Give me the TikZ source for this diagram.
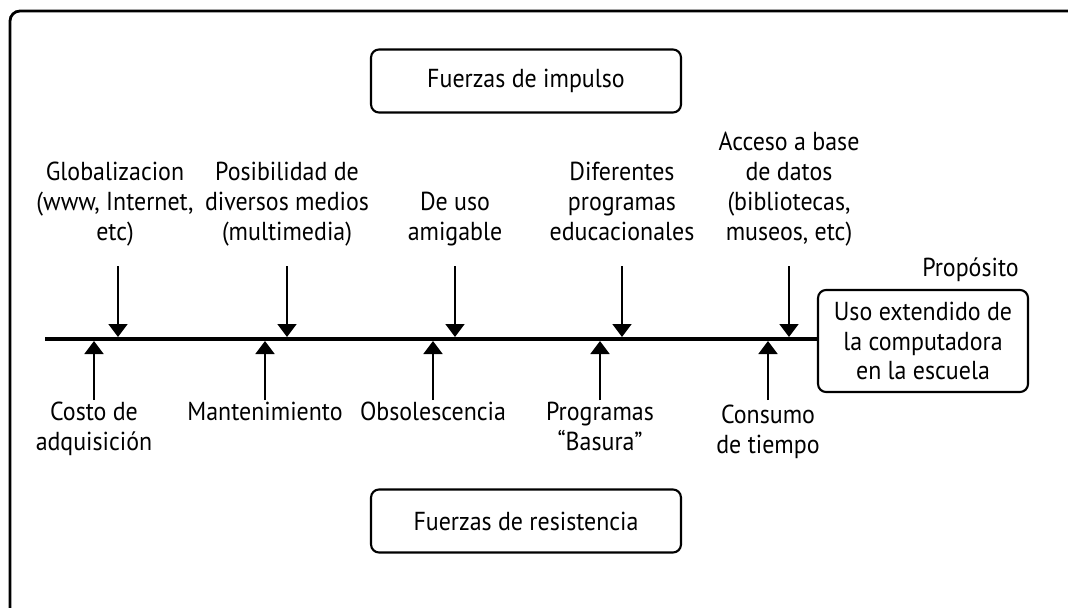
\documentclass[tikz,border=0pt]{standalone}
\usepackage{fontspec}
\setmainfont{PT Sans}[FakeStretch=0.92]
\usetikzlibrary{arrows.meta,positioning}

\tikzset{
  lbl/.style={align=center, inner sep=0pt, text depth=0.3em},
  tag/.style={draw, rounded corners=0.16cm, line width=1.2pt, align=center},
  force/.style={->, line width=1.1pt}
}

\begin{document}
\begin{tikzpicture}[x=0.02cm,y=-0.02cm,>={Triangle[width=0.38cm,length=0.26cm]},
    font=\fontsize{14.8pt}{17pt}\selectfont]
  \useasboundingbox (0,0) rectangle (1068,608);
  \draw[line width=1.6pt, rounded corners=0.2cm] (10,640) -- (10,11) -- (1100,11);

  \node (imp) [tag, minimum width=6.2cm, minimum height=1.26cm] at (526,81) {Fuerzas de impulso};
  \node (res) [tag, minimum width=6.2cm, minimum height=1.26cm] at (526,521) {Fuerzas de resistencia};
  \node (goal) [tag, inner xsep=1pt, minimum width=4.2cm, minimum height=2.04cm] at (923,341)
        {Uso extendido de\\la computadora\\en la escuela};
  \node (purp) [inner sep=0pt, above=0.14cm of goal.north east, anchor=south east, xshift=-0.2cm] {Propósito};

  % main line
  \coordinate (start) at (45,339);
  \draw[line width=2.8pt] (start) -- (start -| goal.west);

  % driving forces
  \coordinate (t1) at (118,266);  \coordinate (d1) at (118,337);
  \coordinate (t2) at (287,266);  \coordinate (d2) at (287,337);
  \coordinate (t3) at (455,266);  \coordinate (d3) at (455,337);
  \coordinate (t4) at (622,266);  \coordinate (d4) at (622,337);
  \coordinate (t5) at (789,266);  \coordinate (d5) at (789,337);
  \node (g1) [lbl, above=0.4cm of t1, xshift=-0.06cm] {Globalizacion\\(www, Internet,\\etc)};
  \node (g2) [lbl, above=0.4cm of t2] {Posibilidad de\\diversos medios\\(multimedia)};
  \node (g3) [lbl, above=0.4cm of t3] {De uso\\amigable};
  \node (g4) [lbl, above=0.4cm of t4] {Diferentes\\programas\\educacionales};
  \node (g5) [lbl, above=0.4cm of t5] {Acceso a base\\de datos\\(bibliotecas,\\museos, etc)};
  \path[force] (t1) edge (d1)
               (t2) edge (d2)
               (t3) edge (d3)
               (t4) edge (d4)
               (t5) edge (d5);

  % restraining forces
  \coordinate (b1) at (94,400);   \coordinate (u1) at (94,341);
  \coordinate (b2) at (265,400);  \coordinate (u2) at (265,341);
  \coordinate (b3) at (433,400);  \coordinate (u3) at (433,341);
  \coordinate (b4) at (600,400);  \coordinate (u4) at (600,341);
  \coordinate (b5) at (768,400);  \coordinate (u5) at (768,341);
  \node (r1) [lbl, below=0.04cm of b1] {Costo de\\adquisición};
  \node (r2) [lbl, below=0.04cm of b2] {Mantenimiento};
  \node (r3) [lbl, below=0.04cm of b3] {Obsolescencia};
  \node (r4) [lbl, below=0.04cm of b4] {Programas\\“Basura”};
  \node (r5) [lbl, below=0.1cm of b5] {Consumo\\de tiempo};
  \path[force] (b1) edge (u1)
               (b2) edge (u2)
               (b3) edge (u3)
               (b4) edge (u4)
               (b5) edge (u5);
\end{tikzpicture}
\end{document}
